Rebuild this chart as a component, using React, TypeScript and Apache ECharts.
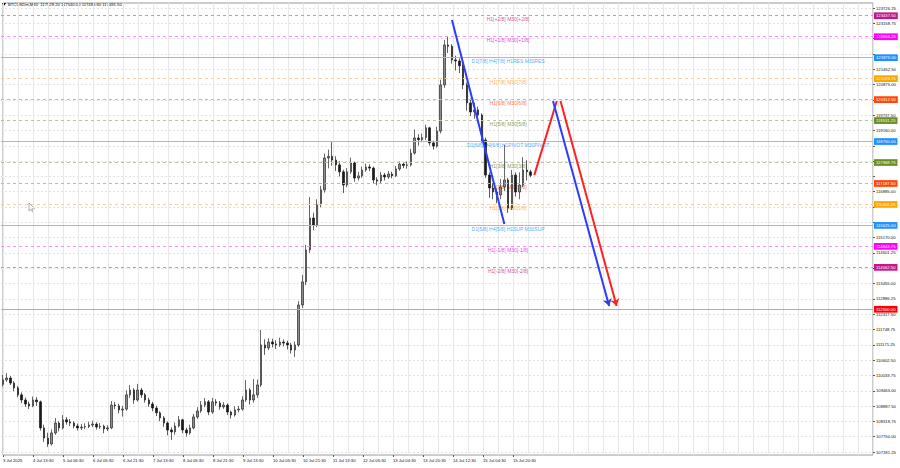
import React, { useEffect, useRef } from "react";
import * as echarts from "echarts";

// ---------- DATA ----------
const TITLE_TEXT = "BTCUSDm,M30  117528.20 117540.00 117485.60 117491.50";

const TIME_LABELS = [
  "3 Jul 2025", "4 Jul 13:30", "5 Jul 06:30", "6 Jul 05:30", "6 Jul 21:30", "7 Jul 13:30",
  "8 Jul 05:30", "8 Jul 21:30", "9 Jul 13:30", "10 Jul 05:30", "10 Jul 21:30", "11 Jul 13:30",
  "12 Jul 05:30", "13 Jul 04:30", "13 Jul 20:30", "14 Jul 12:30", "15 Jul 04:30", "15 Jul 20:30",
];

// price scale labels, bottom to top
const PRICE_TICKS = [
  "107181.25", "107750.00", "108318.75", "108887.50", "109465.00", "110033.75", "110602.50",
  "111171.25", "111748.75", "112317.50", "112886.25", "113455.00", "114023.75", "114601.25",
  "115170.00", "115738.75", "116316.25", "116885.00", "117453.75", "118022.50", "118591.25",
  "119160.00", "119737.50", "120306.25", "120875.00", "121452.50", "122021.25", "122590.00",
  "123158.75", "123726.25",
];
const PRICE_MIN = 107181.25;
const PRICE_MAX = 123726.25;

const FIRST_OPEN = 109700;
const CLOSE = [
  109870, 109940, 109750, 109570, 109310, 109120, 108970, 108900, 109120, 109050,
  108080, 107700, 107480, 107890, 108260, 108080, 108380, 108300, 108260, 108150,
  108080, 108110, 108130, 108190, 108220, 108110, 108140, 108040, 108080, 108930,
  108900, 108750, 108780, 109310, 109490, 109120, 109490, 109310, 109120, 108970,
  108820, 108640, 108450, 108260, 108000, 107930, 108150, 108380, 108000, 107890,
  108080, 108490, 108710, 108930, 109050, 108670, 109050, 109010, 108860, 108930,
  108670, 108560, 108750, 108780, 109120, 109490, 109120, 109310, 109680, 111170,
  111060, 111280, 111210, 111170, 111280, 111240, 111170, 110980, 111170, 112660,
  113520, 114710, 115900, 115640, 116390, 116950, 118140, 118200, 118060, 117880,
  117620, 117130, 117620, 117950, 117390, 117470, 117690, 117800, 117760, 117320,
  117280, 117500, 117430, 117540, 117470, 117730, 117910, 117860, 117880, 118320,
  118880, 118820, 118900, 119260, 118700, 118580, 119140, 120860, 122350, 122300,
  121790, 121750, 121570, 120860, 120190, 119850, 119930, 119740, 118810, 117500,
  117020, 116870, 116760, 117060, 117320, 116270, 117500, 116870, 117130, 117690,
  117620, 117490,
];
const HIGH = [
  110050, 110120, 110010, 109820, 109640, 109400, 109210, 109060, 109250, 109230,
  109100, 108200, 107900, 108020, 108450, 108330, 108560, 108480, 108410, 108330,
  108240, 108230, 108250, 108310, 108350, 108290, 108260, 108200, 108180, 109080,
  109050, 108980, 108900, 109480, 109680, 109560, 109720, 109570, 109380, 109200,
  109050, 108900, 108700, 108520, 108320, 108100, 108280, 108520, 108420, 108090,
  108200, 108600, 108850, 109080, 109190, 109120, 109200, 109150, 109080, 109040,
  108990, 108720, 108880, 108900, 109260, 109870, 109560, 109900, 109880, 111730,
  111380, 111420, 111400, 111350, 111440, 111380, 111330, 111250, 111300, 112800,
  113780, 114900, 116680, 116100, 116600, 117100, 118300, 118450, 118730, 118200,
  118020, 117700, 117760, 118150, 118000, 117620, 117820, 117930, 117900, 117820,
  117420, 117620, 117580, 117650, 117630, 117840, 118010, 117990, 118000, 118480,
  119200, 119020, 119050, 119380, 119300, 118780, 119300, 121050, 122540, 122650,
  122380, 121950, 121850, 121650, 120950, 120350, 120200, 120050, 119800, 118900,
  117600, 117200, 117000, 117350, 118620, 117400, 117690, 117600, 117600, 118170,
  118050, 117700,
];
const LOW = [
  109620, 109800, 109680, 109450, 109220, 109000, 108860, 108780, 108850, 108900,
  107980, 107560, 107370, 107420, 107820, 107950, 108020, 108200, 108150, 108060,
  107980, 108000, 108030, 108070, 108110, 108020, 108040, 107880, 107960, 108030,
  108780, 108620, 108500, 108720, 109200, 108980, 109060, 109200, 109020, 108860,
  108700, 108520, 108330, 108120, 107800, 107630, 107820, 108100, 107880, 107760,
  107820, 108030, 108420, 108640, 108850, 108560, 108600, 108900, 108760, 108790,
  108560, 108430, 108500, 108660, 108720, 109050, 108950, 109020, 109200, 109600,
  110800, 110980, 111080, 111020, 111100, 111120, 111000, 110850, 110720, 111100,
  112550, 113400, 114600, 115450, 115560, 116300, 116850, 117750, 117850, 117650,
  117450, 116830, 117050, 117550, 117250, 117300, 117400, 117620, 117650, 117200,
  117120, 117200, 117300, 117360, 117380, 117420, 117660, 117760, 117740, 117820,
  118260, 118600, 118720, 118800, 118600, 118450, 118520, 119050, 120750, 122050,
  121650, 121400, 121300, 120700, 119900, 119700, 119600, 119550, 118700, 117400,
  116650, 116600, 116450, 116600, 116900, 116090, 116200, 116700, 116600, 117050,
  117300, 117420,
];

// Murrey-style levels (top to bottom)
const LEVEL_PRICES = [
  123437.5, 122656.25, 121875, 121093.75, 120312.5, 119531.25, 118750,
  117968.75, 117187.5, 116406.25, 115625, 114843.75, 114062.5,
];
const LEVEL_TEXTS = [
  "H1[+2/8] M30[+2/8]", "H1[+1/8] M30[+1/8]", "D1[7/8] H4[7/8] H1RES M30RES",
  "H1[7/8] M30[7/8]", "H1[6/8] M30[6/8]", "H1[5/8] M30[5/8]",
  "D1[6/8] H4[6/8] H1PIVOT M30PIVOT", "H1[3/8] M30[3/8]", "H1[2/8] M30[2/8]",
  "H1[1/8] M30[1/8]", "D1[5/8] H4[5/8] H1SUP M30SUP", "H1[-1/8] M30[-1/8]", "H1[-2/8] M30[-2/8]",
];
const LEVEL_KIND = ["ext2", "ext1", "major", "q7", "q6", "q5", "major", "q5", "q6", "q7", "major", "ext1", "ext2"];

const TARGET_LEVEL = 112500;
const LAST_PRICE = 117491.5;

// hand-drawn arrows: [bar index, price]
const BLUE_TREND = [[119.6, 123280], [133.7, 115680]];
const RED_UP = [[141.5, 117500], [148.1, 120260]];
const RED_DOWN = [[148.8, 120260], [164.4, 112620]];
const BLUE_DOWN = [[147.4, 120260], [162.0, 112620]];

// ---------- LAYOUT / STYLE ----------
const N_CATS = 233;
const TEXT_COL = 135;
const FONT = "'Liberation Sans', Arial, sans-serif";
const BLUE = "#2a3cff";
const RED = "#ff2020";
const PLOT_TOP = 8;
const PLOT_BOTTOM_GAP = 16;
const PRICE_PER_PX = (PRICE_MAX - PRICE_MIN) / (468 - PLOT_TOP - PLOT_BOTTOM_GAP);
const HIDE_TICK_PX = 4.6;
const SHORT_DASH = [3, 3];

const KIND_STYLE: Record<string, { box: string; line: string; text: string; dash: number[] | null }> = {
  ext2: { box: "#c4168a", line: "#dc88c2", text: "#c4168a", dash: SHORT_DASH },
  ext1: { box: "#ff00ff", line: "#ff88ff", text: "#ee00ee", dash: SHORT_DASH },
  major: { box: "#1e90ff", line: "#80c4fa", text: "#1e90ff", dash: null },
  q7: { box: "#ffa500", line: "#ffcf90", text: "#ff9a10", dash: SHORT_DASH },
  q6: { box: "#ff4500", line: "#ffa080", text: "#ff4a10", dash: SHORT_DASH },
  q5: { box: "#6b8e23", line: "#b4c69a", text: "#5f7f2a", dash: SHORT_DASH },
};

function buildOption() {
  const cats = Array.from({ length: N_CATS }, (_, i) => String(i));
  const candles = CLOSE.map((c, i) => {
    const o = i === 0 ? FIRST_OPEN : CLOSE[i - 1];
    return [o, c, LOW[i], HIGH[i]];
  });
  const boxPrices = [...LEVEL_PRICES, TARGET_LEVEL, LAST_PRICE];

  const boxLabel = (bg: string, val: number) => ({
    show: true,
    position: "end",
    distance: 1,
    formatter: val.toFixed(2),
    backgroundColor: bg,
    color: "#fff",
    fontSize: 4.2,
    fontFamily: FONT,
    padding: [1.5, 2, 1.2, 2],
  });

  const levelLines: any[] = LEVEL_PRICES.map((p, i) => {
    const st = KIND_STYLE[LEVEL_KIND[i]];
    return {
      yAxis: p,
      lineStyle: { color: st.line, width: 1, type: st.dash ?? "solid", opacity: 1 },
      label: boxLabel(st.box, p),
    };
  });
  levelLines.push({
    yAxis: TARGET_LEVEL,
    lineStyle: { color: "#ff8a8a", width: 1, type: "solid", opacity: 1 },
    label: boxLabel("#ff0000", TARGET_LEVEL),
  });
  levelLines.push({
    yAxis: LAST_PRICE,
    lineStyle: { opacity: 0, width: 0 },
    label: boxLabel("#000000", LAST_PRICE),
  });

  const seg = (pts: number[][], color: string, arrow: boolean) => [
    { coord: pts[0], symbol: "none", lineStyle: { color, width: 2, type: "solid", opacity: 1 }, label: { show: false } },
    { coord: pts[1], symbol: arrow ? "arrow" : "none", symbolSize: 7 },
  ];
  const arrows = [
    seg(BLUE_TREND, BLUE, false),
    seg(RED_UP, RED, false),
    seg(BLUE_DOWN, BLUE, true),
    seg(RED_DOWN, RED, true),
  ];

  const textData = LEVEL_PRICES.map((p, i) => ({
    value: [TEXT_COL, p],
    name: LEVEL_TEXTS[i],
    label: { color: KIND_STYLE[LEVEL_KIND[i]].text },
  }));

  const tickLabel = (v: number) => {
    const s = PRICE_TICKS[Math.round(v)];
    if (!s) return "";
    const p = parseFloat(s);
    const covered = boxPrices.some((b) => Math.abs(b - p) / PRICE_PER_PX < HIDE_TICK_PX);
    return covered ? "" : s;
  };

  return {
    animation: false,
    backgroundColor: "#ffffff",
    textStyle: { fontFamily: FONT },
    grid: [
      { left: 1, right: 27, top: 3, bottom: 13, show: true, borderColor: "#9a9a9a", borderWidth: 1, backgroundColor: "#fff" },
      { left: 1, right: 27, top: PLOT_TOP, bottom: PLOT_BOTTOM_GAP },
    ],
    xAxis: [
      {
        gridIndex: 0,
        type: "category",
        data: cats,
        boundaryGap: false,
        axisLine: { show: false },
        axisTick: {
          show: true,
          length: 2,
          interval: (i: number) => i % 8 === 0 && i / 8 < TIME_LABELS.length,
          lineStyle: { color: "#555" },
        },
        axisLabel: {
          interval: (i: number) => i % 8 === 0 && i / 8 < TIME_LABELS.length,
          formatter: (_v: string, i: number) => TIME_LABELS[i / 8] ?? "",
          fontSize: 4.2,
          fontFamily: FONT,
          color: "#111",
          align: "left",
          margin: 3,
        },
        splitLine: { show: true, interval: (i: number) => i % 4 === 0, lineStyle: { color: "#e8e8e8", width: 1 } },
      },
      { gridIndex: 1, type: "category", data: cats, boundaryGap: true, show: false },
    ],
    yAxis: [
      { gridIndex: 0, type: "value", min: 0, max: 1, show: false, splitLine: { show: false } },
      { gridIndex: 1, type: "value", min: PRICE_MIN, max: PRICE_MAX, show: false, splitLine: { show: false } },
      {
        gridIndex: 1,
        type: "value",
        min: 0,
        max: PRICE_TICKS.length - 1,
        interval: 1,
        position: "right",
        axisLine: { show: false },
        axisTick: { show: true, length: 2, lineStyle: { color: "#555" } },
        axisLabel: {
          formatter: tickLabel,
          fontSize: 4.2,
          fontFamily: FONT,
          color: "#111",
          margin: 3,
        },
        splitLine: { show: true, lineStyle: { color: "#e2e2e2", width: 1, type: [2, 2] } },
      },
    ],
    series: [
      {
        type: "scatter",
        name: "levels",
        xAxisIndex: 1,
        yAxisIndex: 1,
        data: textData,
        symbolSize: 1,
        silent: true,
        z: 1,
        itemStyle: { color: "rgba(0,0,0,0)" },
        label: {
          show: true,
          position: "bottom",
          distance: 0.5,
          formatter: (p: any) => p.name,
          fontSize: 5,
          fontFamily: FONT,
        },
        markLine: {
          silent: true,
          symbol: ["none", "none"],
          precision: 2,
          animation: false,
          data: levelLines,
        },
      },
      {
        type: "candlestick",
        name: "BTCUSDm",
        xAxisIndex: 1,
        yAxisIndex: 1,
        z: 3,
        data: candles,
        barWidth: 2,
        itemStyle: {
          color: "#8c8c8c",
          color0: "#1a1a1a",
          borderColor: "#2a2a2a",
          borderColor0: "#1a1a1a",
          borderWidth: 0.7,
        },
        markLine: {
          silent: true,
          symbol: ["none", "none"],
          animation: false,
          data: arrows,
        },
      },
    ],
    graphic: [
      { type: "polygon", shape: { points: [[2, 3], [6, 3], [4, 6]] }, style: { fill: "#000" } },
      { type: "text", left: 8, top: 2, style: { text: TITLE_TEXT, fontSize: 4.2, fontFamily: FONT, fill: "#111" } },
      {
        type: "polygon",
        shape: { points: [[29, 203], [29, 211], [31, 209.2], [32.6, 212], [33.6, 211.4], [32.1, 208.7], [34.6, 208.6]] },
        style: { fill: "#fff", stroke: "#777", lineWidth: 0.6 },
      },
    ],
  };
}

export default function App() {
  const ref = useRef<HTMLDivElement>(null);
  useEffect(() => {
    if (!ref.current) return;
    const chart = echarts.init(ref.current, null, { renderer: "svg" });
    chart.setOption(buildOption() as any);
    return () => chart.dispose();
  }, []);
  return <div ref={ref} style={{ position: "fixed", left: 0, top: 0, width: 900, height: 468 }} />;
}
